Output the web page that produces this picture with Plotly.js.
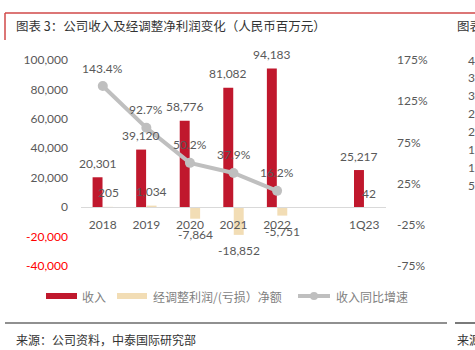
<!DOCTYPE html>
<html>
<head>
<meta charset="utf-8">
<script src="https://cdn.plot.ly/plotly-3.0.1.min.js"></script>
<style>html,body{margin:0;padding:0;background:#fff;}#chart{width:475px;height:350px;}</style>
</head>
<body>
<div id="chart"></div>
<script>
// ---- data ----
const categories = ['2018', '2019', '2020', '2021', '2022', ' ', '1Q23'];
const revenue = [20301, 39120, 58776, 81082, 94183, null, 25217];
const adjNetProfit = [205, 1034, -7864, -18852, -5751, null, 42];
const revenueGrowth = [143.4, 92.7, 50.2, 37.9, 16.2, null, null];
const leftTickVals = [-40000, -20000, 0, 20000, 40000, 60000, 80000, 100000];
const rightTickVals = [-75, -25, 25, 75, 125, 175];
const seriesNames = ['收入', '经调整利润/(亏损）净额', '收入同比增速'];
const sideTickLabels = ['40', '35', '30', '25', '20', '15', '10', '5'];

// ---- helpers ----
const L = 81, R = 386, T = 60, B = 266;
const W = 475, H = 350;
const px = p => (p - L) / (R - L);
const py = p => (B - p) / (B - T);
const fmt = v => v.toLocaleString('en-US');

const FONT = "Lato, 'Noto Sans CJK SC', sans-serif";
const CJK = "'Noto Sans CJK SC', sans-serif";
const RED = '#C0182D', BEIGE = '#F2DDB5', GREY = '#BFBFBF', TXT = '#595959';
const BARGAP = 0.52;
const barOffset = (1 - BARGAP) / 4; // centre offset of each bar in a 2-bar group (category units)

const leftTickText = leftTickVals.map(v => v < 0 ? '<span style="color:#FF0000">' + fmt(v) + '</span>' : fmt(v));

const traces = [
  {
    type: 'bar', name: seriesNames[0], x: categories, y: revenue,
    marker: {color: RED}, hoverinfo: 'none'
  },
  {
    type: 'bar', name: seriesNames[1], x: categories, y: adjNetProfit,
    marker: {color: BEIGE}, hoverinfo: 'none'
  },
  {
    type: 'scatter', mode: 'lines+markers', name: seriesNames[2],
    x: categories, y: revenueGrowth, yaxis: 'y2',
    line: {color: GREY, width: 4}, marker: {color: GREY, size: 10},
    cliponaxis: false, connectgaps: false, hoverinfo: 'none'
  }
];

const shapes = [
  // title frame
  {type: 'line', xref: 'paper', yref: 'paper', x0: px(5), x1: px(475), y0: py(13), y1: py(13), line: {color: '#D04848', width: 1.5}},
  {type: 'line', xref: 'paper', yref: 'paper', x0: px(5), x1: px(5), y0: py(13), y1: py(40), line: {color: '#D04848', width: 1.5}},
  // bottom rule
  {type: 'line', xref: 'paper', yref: 'paper', x0: px(5), x1: px(447), y0: py(323), y1: py(323), line: {color: '#222', width: 1.2}},
  {type: 'line', xref: 'paper', yref: 'paper', x0: px(455), x1: px(475), y0: py(323), y1: py(323), line: {color: '#222', width: 1.2}},
  // legend swatches
  {type: 'rect', xref: 'paper', yref: 'paper', x0: px(46), x1: px(77), y0: py(293), y1: py(299), fillcolor: RED, line: {width: 0}},
  {type: 'rect', xref: 'paper', yref: 'paper', x0: px(117), x1: px(147), y0: py(293), y1: py(299), fillcolor: BEIGE, line: {width: 0}},
  {type: 'line', xref: 'paper', yref: 'paper', x0: px(298), x1: px(330), y0: py(296), y1: py(296), line: {color: GREY, width: 4}},
  {type: 'circle', xref: 'paper', yref: 'paper', x0: px(310), x1: px(318), y0: py(292), y1: py(300), fillcolor: GREY, line: {width: 0}}
];

const lbl = (text, x, y, yref, yshift) => ({
  text: text, x: x, y: y, xref: 'x', yref: yref, yshift: yshift,
  xanchor: 'center', yanchor: 'middle', showarrow: false,
  font: {family: FONT, size: 12, color: TXT}
});

const annotations = [
  {text: '图表 3：公司收入及经调整净利润变化（人民币百万元）', x: px(14), y: py(25), xref: 'paper', yref: 'paper',
   xanchor: 'left', yanchor: 'middle', showarrow: false, font: {family: CJK, size: 12.5, color: '#333'}},
  {text: '图表', x: px(455), y: py(25), xref: 'paper', yref: 'paper',
   xanchor: 'left', yanchor: 'middle', showarrow: false, font: {family: CJK, size: 12.5, color: '#333'}},
  {text: '来源：公司资料，中泰国际研究部', x: px(14), y: py(339), xref: 'paper', yref: 'paper',
   xanchor: 'left', yanchor: 'middle', showarrow: false, font: {family: CJK, size: 12, color: '#333'}},
  {text: '来源', x: px(455), y: py(339), xref: 'paper', yref: 'paper',
   xanchor: 'left', yanchor: 'middle', showarrow: false, font: {family: CJK, size: 12, color: '#333'}},
  {text: seriesNames[0], x: px(80), y: py(296), xref: 'paper', yref: 'paper',
   xanchor: 'left', yanchor: 'middle', showarrow: false, font: {family: CJK, size: 12, color: '#7F7F7F'}},
  {text: seriesNames[1], x: px(151), y: py(296), xref: 'paper', yref: 'paper',
   xanchor: 'left', yanchor: 'middle', showarrow: false, font: {family: CJK, size: 12, color: '#7F7F7F'}},
  {text: seriesNames[2], x: px(334), y: py(296), xref: 'paper', yref: 'paper',
   xanchor: 'left', yanchor: 'middle', showarrow: false, font: {family: CJK, size: 12, color: '#7F7F7F'}}
];
sideTickLabels.forEach((t, i) => {
  annotations.push({text: t, x: px(466), y: py(60 + i * 17.9), xref: 'paper', yref: 'paper',
    xanchor: 'left', yanchor: 'middle', showarrow: false, font: {family: FONT, size: 12, color: TXT}});
});
// data labels
revenue.forEach((v, i) => { if (v != null) annotations.push(lbl(fmt(v), i - barOffset, v, 'y', 14)); });
adjNetProfit.forEach((v, i) => { if (v != null) annotations.push(lbl(fmt(v), i + barOffset, v, 'y', v >= 0 ? 14 : -16)); });
revenueGrowth.forEach((v, i) => { if (v != null) annotations.push(lbl(v.toFixed(1) + '%', i, v, 'y2', 18)); });

const layout = {
  width: W, height: H,
  margin: {l: L, r: W - R, t: T, b: H - B, pad: 0},
  paper_bgcolor: '#fff', plot_bgcolor: 'rgba(0,0,0,0)',
  showlegend: false,
  barmode: 'group', bargap: BARGAP, bargroupgap: 0.05,
  font: {family: FONT, size: 12, color: TXT},
  xaxis: {
    type: 'category', categoryorder: 'array', categoryarray: categories,
    range: [-0.5, 6.5], anchor: 'free', position: py(207),
    showline: true, linecolor: '#D9D9D9', linewidth: 1.2,
    showgrid: false, zeroline: false, ticks: '', ticklabelstandoff: 6,
    tickfont: {family: FONT, size: 12, color: TXT}, fixedrange: true
  },
  yaxis: {
    range: [-40000, 100000], tickvals: leftTickVals, ticktext: leftTickText,
    showgrid: false, zeroline: false, showline: false, ticks: '', ticklabelstandoff: 12,
    tickfont: {family: FONT, size: 12, color: TXT}, fixedrange: true
  },
  yaxis2: {
    overlaying: 'y', side: 'right', range: [-75, 175], tickvals: rightTickVals,
    ticktext: rightTickVals.map(v => v + '%'),
    showgrid: false, zeroline: false, showline: false, ticks: '', ticklabelstandoff: 10,
    tickfont: {family: FONT, size: 12, color: TXT}, fixedrange: true
  },
  shapes: shapes,
  annotations: annotations
};

Plotly.newPlot('chart', traces, layout, {displayModeBar: false, staticPlot: true});
</script>
</body>
</html>
